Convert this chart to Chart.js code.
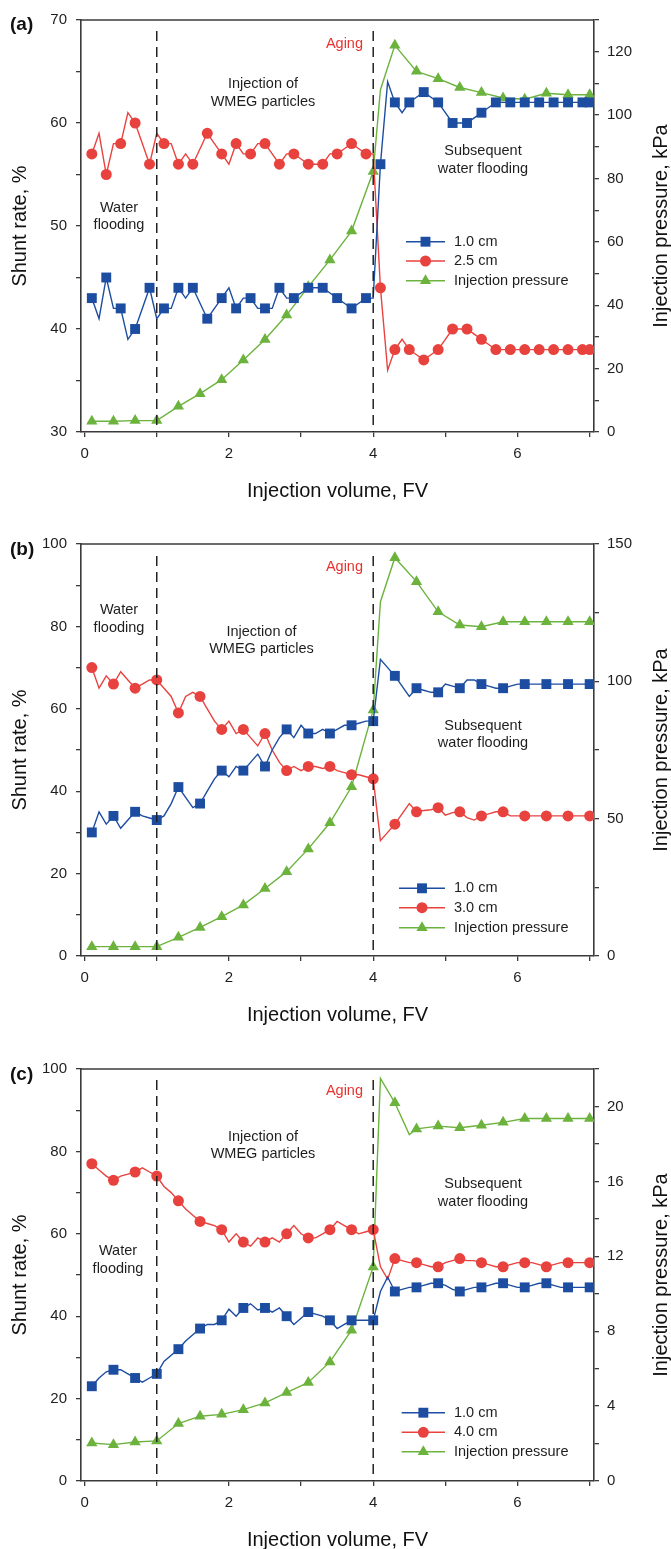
<!DOCTYPE html>
<html>
<head>
<meta charset="utf-8">
<script src="https://cdn.jsdelivr.net/npm/chart.js@4.4.1/dist/chart.umd.min.js"></script>
<style>
  html, body { margin: 0; padding: 0; background: #fff; }
  canvas { display: block; }
</style>
</head>
<body>
<canvas id="chartA" width="671" height="524"></canvas>
<canvas id="chartB" width="671" height="525"></canvas>
<canvas id="chartC" width="671" height="500"></canvas>
<script>
// --- data ---
const fv = [0.1,0.2,0.3,0.4,0.5,0.6,0.7,0.8,0.9,1.0,1.1,1.2,1.3,1.4,1.5,1.6,1.7,1.8,1.9,2.0,
  2.1,2.2,2.3,2.4,2.5,2.6,2.7,2.8,2.9,3.0,3.1,3.2,3.3,3.4,3.5,3.6,3.7,3.8,3.9,4.0,
  4.1,4.2,4.3,4.4,4.5,4.6,4.7,4.8,4.9,5.0,5.1,5.2,5.3,5.4,5.5,5.6,5.7,5.8,5.9,6.0,
  6.1,6.2,6.3,6.4,6.5,6.6,6.7,6.8,6.9,7.0]

const xTicks = [0,1,2,3,4,5,6,7]
const xLabels = [0,2,4,6]

// (a)
const aBlue = [43,41,45,42,42,39,40,42,44,41, 42,42,44,43,44,42.5,41,42,43,44,
  42,43,43,42,42,42,44,43,43,43.5, 44,44,44,43.5,43,42.5,42,42.5,43,43,
  56,64,62,61,62,62.5,63,62.5,62,61, 60,60,60,60.5,61,61.5,62,62,62,62,
  62,62,62,62,62,62,62,62,62,62]
const aRed = [57,59,55,58,58,61,60,58,56,59, 58,58,56,57,56,57.5,59,58,57,56,
  58,57,57,58,58,57,56,57,57,56.5, 56,56,56,57,57,57.5,58,57.5,57,57,
  44,36,38,39,38,37.5,37,37.5,38,39, 40,40,40,39.5,39,38.5,38,38,38,38,
  38,38,38,38,38,38,38,38,38,38]
const aPressX = [0.1,0.4,0.7,1.0,1.3,1.6,1.9,2.2,2.5,2.8,3.1,3.4,3.7,4.0,4.1,4.3,4.6,4.9,5.2,5.5,5.8,6.1,6.4,6.7,7.0]
const aPress = [3.4,3.4,3.6,3.6,8.1,12.1,16.5,22.7,29.2,36.9,45.8,54.3,63.4,82.2,108,122,113.8,111.5,108.7,107.1,105.4,105,106.9,106.4,106.4]
const aLeftTicks = [30,35,40,45,50,55,60,65,70]
const aLeftLabels = [30,40,50,60,70]
const aRightTicks = [0,10,20,30,40,50,60,70,80,90,100,110,120,130]
const aRightLabels = [0,20,40,60,80,100,120]

// (b)
const bBlue = [30,35,32,34,31,33,35,34,33.5,33, 34,37,41,38.5,36,37,40,43,45,43.5,
  46,45,47,49,46,50,53,55,53,56, 54,54,55,54,55,56,56,56.5,57,57,
  72,70,68,65.5,63,65,64.5,64,64,66, 65.5,65,67,67,66,65.5,65,65,65.5,66,
  66,66,66,66,66,66,66,66,66,66]
const bRed = [70,65,68,66,69,67,65,66,67,67, 65,63,59,63,64,63,60,57,55,57,
  54,55,53,51,54,50,47,45,46,45, 46,46,45.5,46,45,44.5,44,44,43.5,43,
  28,30,32,34.5,37,35,35.3,35.5,36,34.2, 34.8,35,33.6,33,34,34.5,35,35,34,34,
  34,34,34,34,34,34,34,34,34,34]
const bPressX = [0.1,0.4,0.7,1.0,1.3,1.6,1.9,2.2,2.5,2.8,3.1,3.4,3.7,4.0,4.1,4.3,4.6,4.9,5.2,5.5,5.8,6.1,6.4,6.7,7.0]
const bPress = [3.4,3.4,3.4,3.4,6.8,10.4,14.3,18.6,24.6,30.7,39,48.5,61.6,89.6,129,145,136.3,125.3,120.5,119.9,121.7,121.7,121.7,121.7,121.7]
const bLeftTicks = [0,10,20,30,40,50,60,70,80,90,100]
const bLeftLabels = [0,20,40,60,80,100]
const bRightTicks = [0,25,50,75,100,125,150]
const bRightLabels = [0,50,100,150]

// (c)
const cBlue = [23,25,26.5,27,27,26,25,24,25,26, 29,30.5,32,34,35.5,37,38,38,39,41.7,
  40,42,43,41.5,42,41,42,40,38,39.5, 41,40.5,40,39,37,38,39,39,39,39,
  46,49.5,46,46.5,47,47,47.5,48,48,47.5, 46.5,46,46.5,47,47,47.5,48,48,47.5,47,
  47,47.5,48,48,47.5,47,47,47,47,47]
const cRed = [77,75.5,74,73,74,74.5,75,76,75,74, 71.5,70,68,66,64.5,63,62.5,62,61,58,
  60,58,57,59,58,59,58,60,62,60, 59,59,60,61,63,62,61,60,60.5,61,
  52,49,54,53.5,53,53,52.5,52,52,53, 53.5,54,53.5,53.5,53,52.5,52,52,52.5,53,
  53,53,52.5,52,52.5,53,53,53,53,53]
const cPressX = [0.1,0.4,0.7,1.0,1.3,1.6,1.9,2.2,2.5,2.8,3.1,3.4,3.7,4.0,4.1,4.3,4.5,4.6,4.9,5.2,5.5,5.8,6.1,6.4,6.7,7.0]
const cPress = [2.03,1.94,2.08,2.14,3.07,3.46,3.56,3.81,4.17,4.72,5.26,6.36,8.05,11.43,21.5,20.2,18.5,18.8,18.95,18.86,19.0,19.15,19.36,19.36,19.36,19.36]
const cLeftTicks = [0,10,20,30,40,50,60,70,80,90,100]
const cLeftLabels = [0,20,40,60,80,100]
const cRightTicks = [0,2,4,6,8,10,12,14,16,18,20,22]
const cRightLabels = [0,4,8,12,16,20]

// --- styling ---
const COL = { blue:'#1c4da1', red:'#e8423f', green:'#6cb33e', axis:'#3a3a3a', text:'#1e1e1e', aging:'#e8332e' }
const FONT = '"Liberation Sans", Arial, Helvetica, sans-serif'
const PLOT_TOP = 20, PLOT_BOTTOM = 432, PLOT_LEFT = 81, PLOT_RIGHT = 594

function isMark(x, step){
  const k = (x - 0.1) / step
  return Math.abs(k - Math.round(k)) < 1e-6 || Math.abs(x - 7) < 1e-6
}
const pts = (xs, ys) => xs.map((x, i) => ({x, y: ys[i]}))

function lineSet(label, data, color, style, radius, step, axis){
  return {
    label, data, yAxisID: axis,
    borderColor: color, backgroundColor: color, borderWidth: 1.4,
    pointStyle: style, pointBackgroundColor: color, pointBorderWidth: 0,
    pointRadius: ctx => isMark(ctx.raw.x, step) ? radius : 0,
    pointHoverRadius: ctx => isMark(ctx.raw.x, step) ? radius : 0,
    tension: 0, fill: false
  }
}

function tickAxis(pos, min, max, ticks, labels, pad){
  return {
    type: 'linear', position: pos, min, max,
    afterBuildTicks: s => { s.ticks = ticks.map(v => ({value: v})) },
    ticks: { autoSkip: false, maxRotation: 0, padding: pad, color: COL.text,
      font: { family: FONT, size: 15 },
      callback: v => labels.includes(v) ? String(v) : '' },
    grid: { drawOnChartArea: false, tickLength: 5, color: COL.axis, lineWidth: 1.3 },
    border: { display: true, color: COL.axis, width: 1.6 }
  }
}

function decor(p){
  return {
    id: 'decor',
    afterDraw(chart){
      const {ctx, chartArea: a, scales: {x}} = chart
      ctx.save()
      // top frame line
      ctx.strokeStyle = COL.axis; ctx.lineWidth = 1.6
      ctx.beginPath(); ctx.moveTo(a.left, a.top); ctx.lineTo(a.right, a.top); ctx.stroke()

      // stage boundaries
      ctx.strokeStyle = '#222'; ctx.lineWidth = 1.5; ctx.setLineDash([10, 6])
      ;[1, 4].forEach(v => {
        const px = x.getPixelForValue(v)
        ctx.beginPath(); ctx.moveTo(px, a.top + p.dashTop); ctx.lineTo(px, a.bottom); ctx.stroke()
      })
      ctx.setLineDash([])

      // notes
      ctx.textBaseline = 'middle'
      ctx.font = `14.5px ${FONT}`
      p.notes.forEach(n => {
        ctx.fillStyle = n.color || COL.text
        ctx.textAlign = n.align || 'center'
        n.lines.forEach((t, i) => ctx.fillText(t, n.x, a.top + n.y + i * 17.5))
      })

      // legend
      const items = [
        {t: '1.0 cm', c: COL.blue, s: 'rect', r: 7},
        {t: p.small, c: COL.red, s: 'circle', r: 5.5},
        {t: 'Injection pressure', c: COL.green, s: 'triangle', r: 6.5}
      ]
      items.forEach((it, i) => {
        const y = a.top + p.legendY[i]
        ctx.strokeStyle = it.c; ctx.lineWidth = 1.4
        ctx.beginPath(); ctx.moveTo(p.legX0, y); ctx.lineTo(445, y); ctx.stroke()
        ctx.fillStyle = it.c
        Chart.helpers.drawPoint(ctx, {pointStyle: it.s, radius: it.r, rotation: 0, borderWidth: 0}, (p.legX0 + 445) / 2, y)
        ctx.fillStyle = COL.text; ctx.textAlign = 'left'
        ctx.fillText(it.t, 454, y)
      })

      // panel tag
      ctx.font = `bold 19px ${FONT}`
      ctx.fillStyle = '#111'; ctx.textAlign = 'left'
      ctx.fillText(p.tag, 10, a.top + p.tagDy)

      // axis titles
      ctx.font = `20px ${FONT}`
      ctx.textAlign = 'center'
      ctx.fillText('Injection volume, FV', (a.left + a.right) / 2, a.bottom + 59)
      const cy = (a.top + a.bottom) / 2
      ctx.save(); ctx.translate(20.5, cy); ctx.rotate(-Math.PI / 2)
      ctx.fillText('Shunt rate, %', 0, 0); ctx.restore()
      ctx.save(); ctx.translate(661, cy); ctx.rotate(-Math.PI / 2)
      ctx.fillText('Injection pressure, kPa', 0, 0); ctx.restore()
      ctx.restore()
    }
  }
}

function makeChart(p){
  const el = document.getElementById(p.id)
  const h = el.height
  const sx = tickAxis('bottom', -0.05, 7.06, xTicks, xLabels, 8)
  sx.afterFit = s => { s.height = h - PLOT_BOTTOM }
  const sy = tickAxis('left', p.left[0], p.left[1], p.left[2], p.left[3], 9)
  sy.afterFit = s => { s.width = PLOT_LEFT }
  const sy1 = tickAxis('right', p.right[0], p.right[1], p.right[2], p.right[3], 8)
  sy1.afterFit = s => { s.width = 671 - PLOT_RIGHT }
  return new Chart(el, {
    type: 'line',
    data: { datasets: [
      lineSet('1.0 cm', pts(fv, p.blue), COL.blue, 'rect', 7, p.step, 'y'),
      lineSet(p.small, pts(fv, p.red), COL.red, 'circle', 5.5, p.step, 'y'),
      lineSet('Injection pressure', pts(p.px, p.press), COL.green, 'triangle', 6.5, 0.3, 'y1')
    ]},
    options: {
      responsive: false, animation: false,
      layout: { padding: { top: PLOT_TOP, left: 0, right: 0, bottom: 0 } },
      plugins: { legend: { display: false }, tooltip: { enabled: false } },
      scales: { x: sx, y: sy, y1: sy1 }
    },
    plugins: [decor(p)]
  })
}

const panels = [
  { id: 'chartA', tag: '(a)', tagDy: 5, small: '2.5 cm', step: 0.2,
    blue: aBlue, red: aRed, px: aPressX, press: aPress,
    left: [30, 70, aLeftTicks, aLeftLabels], right: [0, 130, aRightTicks, aRightLabels],
    dashTop: 11, legX0: 406, legendY: [221.7, 241, 260.7],
    notes: [
      {lines: ['Water', 'flooding'], x: 119, y: 187.7},
      {lines: ['Injection of', 'WMEG particles'], x: 263, y: 64.3},
      {lines: ['Aging'], x: 363, y: 24.3, align: 'right', color: COL.aging},
      {lines: ['Subsequent', 'water flooding'], x: 483, y: 131}
    ] },
  { id: 'chartB', tag: '(b)', tagDy: 6, small: '3.0 cm', step: 0.3,
    blue: bBlue, red: bRed, px: bPressX, press: bPress,
    left: [0, 100, bLeftTicks, bLeftLabels], right: [0, 150, bRightTicks, bRightLabels],
    dashTop: 12, legX0: 399, legendY: [344.3, 363.7, 383.7],
    notes: [
      {lines: ['Water', 'flooding'], x: 119, y: 66},
      {lines: ['Injection of', 'WMEG particles'], x: 261.5, y: 87.7},
      {lines: ['Aging'], x: 363, y: 22.7, align: 'right', color: COL.aging},
      {lines: ['Subsequent', 'water flooding'], x: 483, y: 181.7}
    ] },
  { id: 'chartC', tag: '(c)', tagDy: 6, small: '4.0 cm', step: 0.3,
    blue: cBlue, red: cRed, px: cPressX, press: cPress,
    left: [0, 100, cLeftTicks, cLeftLabels], right: [0, 22, cRightTicks, cRightLabels],
    dashTop: 11, legX0: 401.7, legendY: [343.7, 363.3, 382.7],
    notes: [
      {lines: ['Water', 'flooding'], x: 118, y: 182},
      {lines: ['Injection of', 'WMEG particles'], x: 263, y: 67.7},
      {lines: ['Aging'], x: 363, y: 22, align: 'right', color: COL.aging},
      {lines: ['Subsequent', 'water flooding'], x: 483, y: 115}
    ] }
]

panels.forEach(p => {
  try {
    makeChart(p)
  } catch(e) {
    console.error('Error drawing panel ' + p.tag, e)
  }
})
</script>
</body>
</html>
